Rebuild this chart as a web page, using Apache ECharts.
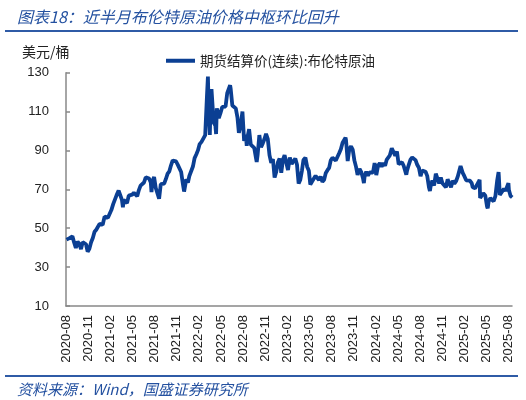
<!DOCTYPE html>
<html>
<head>
<meta charset="utf-8">
<script src="https://cdn.jsdelivr.net/npm/echarts@6/dist/echarts.min.js"></script>
<style>
html,body{margin:0;padding:0;background:#fff;}
#chart{width:526px;height:400px;}
</style>
</head>
<body>
<div id="chart"></div>
<script>
// Brent continuous futures settlement price, USD/bbl (weekly-ish samples)
const dates = [
'2020-08-03','2020-08-07','2020-08-14','2020-08-21','2020-08-28','2020-09-04','2020-09-11','2020-09-18','2020-09-25',
'2020-10-02','2020-10-09','2020-10-16','2020-10-23','2020-10-30','2020-11-06','2020-11-13','2020-11-20','2020-11-27',
'2020-12-04','2020-12-11','2020-12-18','2020-12-24','2020-12-31',
'2021-01-08','2021-01-15','2021-01-22','2021-01-29','2021-02-05','2021-02-12','2021-02-19','2021-02-25',
'2021-03-05','2021-03-12','2021-03-19','2021-03-23','2021-03-26','2021-04-01','2021-04-09','2021-04-16','2021-04-23','2021-04-30',
'2021-05-07','2021-05-14','2021-05-21','2021-05-28','2021-06-04','2021-06-11','2021-06-18','2021-06-25',
'2021-07-02','2021-07-09','2021-07-16','2021-07-19','2021-07-23','2021-07-30','2021-08-06','2021-08-13','2021-08-20','2021-08-27',
'2021-09-03','2021-09-10','2021-09-17','2021-09-24','2021-10-01','2021-10-08','2021-10-15','2021-10-22','2021-10-29',
'2021-11-05','2021-11-12','2021-11-19','2021-11-26','2021-12-01','2021-12-03','2021-12-10','2021-12-17','2021-12-23','2021-12-31',
'2022-01-07','2022-01-14','2022-01-21','2022-01-28','2022-02-04','2022-02-11','2022-02-18','2022-02-25',
'2022-03-04','2022-03-08','2022-03-11','2022-03-16','2022-03-18','2022-03-23','2022-03-25',
'2022-04-01','2022-04-08','2022-04-11','2022-04-14','2022-04-22','2022-04-29','2022-05-06','2022-05-13','2022-05-20','2022-05-27',
'2022-06-03','2022-06-08','2022-06-10','2022-06-17','2022-06-24','2022-07-01','2022-07-08','2022-07-14','2022-07-22','2022-07-29',
'2022-08-05','2022-08-12','2022-08-16','2022-08-19','2022-08-26','2022-09-02','2022-09-09','2022-09-16','2022-09-23','2022-09-26','2022-09-30',
'2022-10-07','2022-10-14','2022-10-21','2022-10-28','2022-11-04','2022-11-11','2022-11-18','2022-11-25',
'2022-12-02','2022-12-09','2022-12-16','2022-12-23','2022-12-30',
'2023-01-06','2023-01-13','2023-01-20','2023-01-27','2023-02-03','2023-02-10','2023-02-17','2023-02-24',
'2023-03-03','2023-03-10','2023-03-17','2023-03-24','2023-03-31','2023-04-06','2023-04-14','2023-04-21','2023-04-28',
'2023-05-04','2023-05-12','2023-05-19','2023-05-26','2023-06-02','2023-06-09','2023-06-16','2023-06-23','2023-06-30',
'2023-07-07','2023-07-14','2023-07-21','2023-07-28','2023-08-04','2023-08-11','2023-08-18','2023-08-25',
'2023-09-01','2023-09-08','2023-09-15','2023-09-22','2023-09-27','2023-09-29','2023-10-06','2023-10-13','2023-10-20','2023-10-27',
'2023-11-03','2023-11-10','2023-11-16','2023-11-24','2023-12-01','2023-12-08','2023-12-12','2023-12-15','2023-12-22','2023-12-29',
'2024-01-05','2024-01-12','2024-01-19','2024-01-26','2024-02-02','2024-02-09','2024-02-16','2024-02-23',
'2024-03-01','2024-03-08','2024-03-15','2024-03-22','2024-03-28','2024-04-05','2024-04-12','2024-04-19','2024-04-26',
'2024-05-03','2024-05-10','2024-05-17','2024-05-24','2024-05-31','2024-06-04','2024-06-07','2024-06-14','2024-06-21','2024-06-28',
'2024-07-05','2024-07-12','2024-07-19','2024-07-26','2024-08-02','2024-08-09','2024-08-16','2024-08-23','2024-08-30',
'2024-09-06','2024-09-10','2024-09-13','2024-09-20','2024-09-27','2024-10-04','2024-10-11','2024-10-18','2024-10-25',
'2024-11-01','2024-11-08','2024-11-15','2024-11-22','2024-11-29','2024-12-06','2024-12-13','2024-12-20','2024-12-27',
'2025-01-03','2025-01-10','2025-01-15','2025-01-17','2025-01-24','2025-01-31','2025-02-07','2025-02-14','2025-02-21','2025-02-28',
'2025-03-04','2025-03-07','2025-03-14','2025-03-21','2025-03-28','2025-04-02','2025-04-04','2025-04-09','2025-04-11','2025-04-17','2025-04-25',
'2025-05-02','2025-05-05','2025-05-09','2025-05-16','2025-05-23','2025-05-30','2025-06-06','2025-06-13','2025-06-19','2025-06-20','2025-06-24','2025-06-27',
'2025-07-03','2025-07-11','2025-07-18','2025-07-25','2025-07-30','2025-08-01','2025-08-08','2025-08-15'
];
const prices = [
44.15,44.40,44.80,44.35,45.81,42.66,39.83,43.15,41.92,
39.27,42.85,42.93,41.77,37.94,39.45,42.78,44.96,48.18,
49.25,49.97,52.26,51.29,51.80,
55.99,55.10,55.41,55.88,59.34,62.43,62.91,67.04,
69.36,69.22,64.53,60.79,64.57,64.86,62.95,66.77,66.11,67.25,
68.28,68.71,66.44,69.63,71.89,72.69,73.51,76.18,
76.17,75.55,73.59,68.62,74.10,76.33,70.70,70.59,65.18,72.70,
72.61,72.92,75.34,78.09,79.28,82.39,84.86,85.53,84.38,
82.74,82.17,78.89,72.72,68.87,69.88,75.15,73.52,76.85,77.78,
81.75,86.06,87.89,90.03,93.27,94.44,93.54,97.93,
118.11,127.98,112.67,98.02,107.93,121.60,120.65,
104.39,102.78,98.48,111.70,106.65,109.34,112.39,111.55,112.55,119.43,
119.72,123.58,122.01,113.12,113.12,111.63,107.02,99.10,103.20,110.01,
94.92,98.15,92.34,96.72,100.99,93.02,92.84,91.35,86.15,84.06,87.96,
97.92,91.63,93.50,95.77,98.57,95.99,87.62,83.63,
85.57,76.10,79.04,83.92,85.91,
78.57,85.28,87.63,86.66,79.94,86.39,83.00,83.16,
85.83,82.78,72.97,74.99,79.77,85.12,86.31,81.66,79.54,
72.50,74.17,75.58,76.95,76.13,74.79,76.61,73.85,74.90,
78.47,79.87,81.07,84.99,86.24,86.81,84.80,84.48,
88.55,90.65,93.93,93.27,96.55,95.31,84.58,90.89,92.16,90.48,
84.89,81.43,77.42,80.58,78.88,75.84,73.24,76.55,79.07,77.04,
78.76,78.29,78.56,83.55,77.33,82.19,83.47,81.62,
83.55,82.08,85.34,85.43,87.48,91.17,90.45,87.29,89.50,
82.96,82.79,83.98,82.12,81.62,77.52,79.62,82.62,85.24,86.41,
86.54,85.03,82.63,81.13,76.81,79.66,79.68,79.02,76.93,
71.06,69.19,71.61,74.49,71.98,78.05,79.04,73.06,76.05,
73.10,73.87,71.04,75.17,72.94,71.12,74.49,72.94,74.17,
76.51,79.76,82.03,81.29,78.50,76.76,74.66,74.74,74.43,73.18,
71.04,70.36,70.58,72.16,73.63,74.95,65.58,65.48,64.76,67.96,66.87,
61.29,60.23,63.91,65.41,64.78,63.90,66.47,74.23,78.85,77.01,67.14,67.77,
68.80,70.36,69.28,68.44,73.24,69.67,66.59,65.85
];
const seriesName = '期货结算价(连续):布伦特原油';
const startYear = 2020, startMonth = 8;
const axisEndDate = '2025-08-14';

function monthIndex(s) {
  const [y, m, d] = s.split('-').map(Number);
  const dim = new Date(y, m, 0).getDate();
  return (y - startYear) * 12 + (m - startMonth) + (d - 1) / dim;
}
function monthLabel(v) {
  const k = Math.round(v) + startMonth - 1;
  const y = startYear + Math.floor(k / 12);
  const m = (k % 12) + 1;
  return y + '-' + (m < 10 ? '0' + m : m);
}
const points = dates.map((d, i) => [monthIndex(d), prices[i]]);

const chart = echarts.init(document.getElementById('chart'));
const blue = '#0B3F93';
const ruleBlue = '#2F5BA6';
chart.setOption({
  animation: false,
  backgroundColor: '#fff',
  title: [
    {text: '图表18：近半月布伦特原油价格中枢环比回升', left: 12, top: 4,
     textStyle: {fontSize: 16, fontStyle: 'italic', fontWeight: 'normal', color: '#2451A0', fontFamily: 'Noto Sans CJK SC'}},
    {text: '美元/桶', left: 17, top: 40,
     textStyle: {fontSize: 14, fontWeight: 'normal', color: '#222', fontFamily: 'Noto Sans CJK SC'}},
    {text: '资料来源：Wind，国盛证券研究所', left: 12, top: 377,
     textStyle: {fontSize: 15, fontStyle: 'italic', fontWeight: 'normal', color: '#2451A0', fontFamily: 'Noto Sans CJK SC'}}
  ],
  graphic: [
    {type: 'line', shape: {x1: 5, y1: 31, x2: 518, y2: 31}, style: {stroke: ruleBlue, lineWidth: 2}},
    {type: 'line', shape: {x1: 5, y1: 376, x2: 518, y2: 376}, style: {stroke: ruleBlue, lineWidth: 2}}
  ],
  legend: {
    left: 161, top: 49,
    itemWidth: 29, itemHeight: 4, itemGap: 10,
    icon: 'rect',
    textStyle: {fontSize: 13.5, color: '#222', fontFamily: 'Noto Sans CJK SC', padding: [0, 0, 0, 0]},
    data: [seriesName]
  },
  grid: {left: 66, right: 14, top: 72.7, bottom: 94, containLabel: false},
  xAxis: {
    type: 'value',
    min: 0,
    max: monthIndex(axisEndDate),
    interval: 3,
    splitLine: {show: false},
    axisLine: {lineStyle: {color: '#888', width: 1.5}},
    axisTick: {show: false},
    axisLabel: {
      rotate: 90, margin: 9, fontSize: 13, color: '#222', fontFamily: 'Liberation Sans',
      showMaxLabel: false,
      formatter: monthLabel
    }
  },
  yAxis: {
    type: 'value',
    min: 10, max: 130, interval: 20,
    splitLine: {show: false},
    axisLine: {show: true, lineStyle: {color: '#888', width: 1.5}},
    axisTick: {show: true, inside: true, length: 4, lineStyle: {color: '#888', width: 1.5}},
    axisLabel: {fontSize: 13, color: '#222', margin: 17, fontFamily: 'Liberation Sans'}
  },
  series: [{
    name: seriesName,
    type: 'line',
    data: points,
    showSymbol: false,
    symbol: 'none',
    lineStyle: {color: blue, width: 3.8},
    itemStyle: {color: blue}
  }]
});
</script>
</body>
</html>
